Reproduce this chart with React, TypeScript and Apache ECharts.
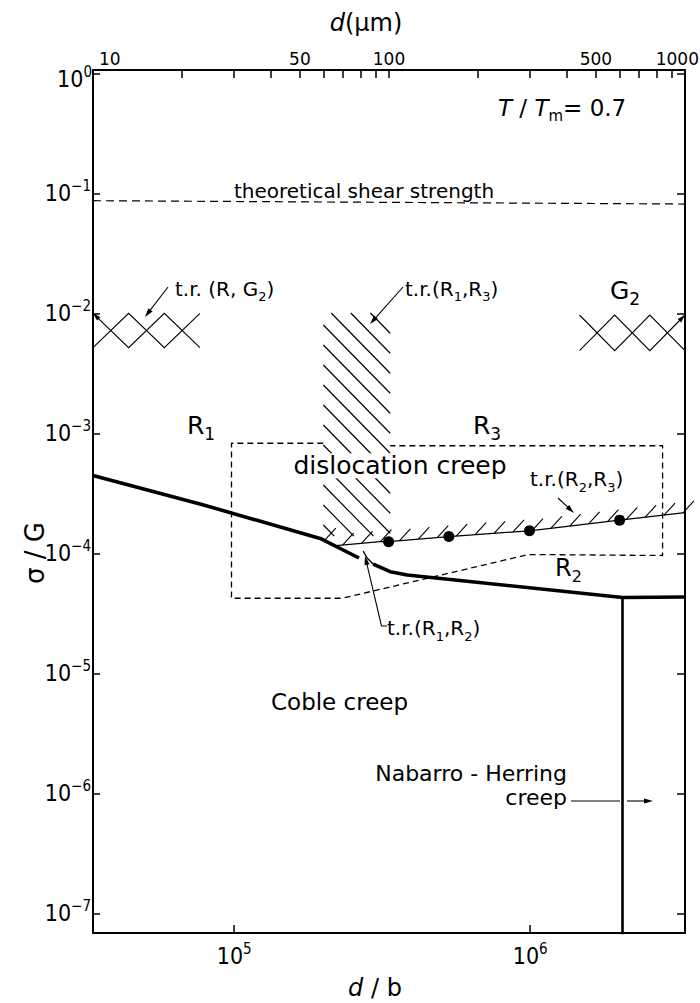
import React, { useEffect, useRef } from 'react';
import * as echarts from 'echarts';

// ---------- data (d/b, sigma/G) ----------
const B_UM = 3e-4; // Burgers vector in micrometres: d/b = d(um) / B_UM

const TOP_TICKS_UM = [10, 20, 30, 40, 50, 60, 70, 80, 90, 100, 200, 300, 400, 500, 600, 700, 800, 900, 1000];
const TOP_LABELS_UM = [10, 50, 100, 500, 1000];
const X_TICK_EXP = [5, 6];
const Y_TICK_EXP = [-7, -6, -5, -4, -3, -2, -1, 0];

const SHEAR_X = [3.333e4, 3.333e6];
const SHEAR_Y = [0.0868, 0.0814];

// Coble / dislocation creep boundary (thick)
const BOUND1_X = [3.333e4, 7.66e4, 1.951e5, 2.64e5];
const BOUND1_Y = [4.45e-4, 2.58e-4, 1.33e-4, 9.14e-5];
// thin connection t.r.(R1,R2)
const LINK_X = [2.726e5, 2.81e5, 2.97e5];
const LINK_Y = [1.045e-4, 9.14e-5, 7.99e-5];
// dislocation creep / Coble boundary, second part
const BOUND2_X = [2.947e5, 3.365e5, 3.842e5, 2.05e6, 3.333e6];
const BOUND2_Y = [8.14e-5, 7.03e-5, 6.6e-5, 4.28e-5, 4.32e-5];
// Nabarro-Herring boundary
const NH_X = [2.05e6, 2.05e6];
const NH_Y = [4.28e-5, 6.5e-8];

// dashed box (experimental range)
const BOX_X = [2.0e5, 9.79e4, 9.79e4, 2.315e5, 9.86e5, 2.8e6, 2.8e6, 3.365e5];
const BOX_Y = [8.26e-4, 8.26e-4, 4.22e-5, 4.22e-5, 9.77e-5, 9.59e-5, 7.88e-4, 7.88e-4];

// t.r.(R2,R3) boundary with measured points
const DOT_X = [3.323e5, 5.31e5, 9.94e5, 2.004e6];
const DOT_Y = [1.25e-4, 1.38e-4, 1.54e-4, 1.89e-4];
const TR23_X = [1.981e5, 2.21e5, 3.112e5, ...DOT_X, 3.333e6];
const TR23_Y = [1.32e-4, 1.16e-4, 1.25e-4, ...DOT_Y, 2.18e-4];

// hatched band t.r.(R1,R3): [left, right], [top, bottom]
const BAND_X = [2.0e5, 3.365e5];
const BAND_Y = [1.006e-2, 1.39e-4];

// cross-hatched bands t.r.(R,G2)
const ZZ_LEFT_X = [3.333e4, 7.66e4];
const ZZ_LEFT_Y = [1.0e-2, 5.17e-3];
const ZZ_RIGHT_X = [1.467e6, 3.333e6];
const ZZ_RIGHT_Y = [9.68e-3, 4.88e-3];

// ---------- style constants ----------
const FONT = "'DejaVu Sans', 'Noto Sans', sans-serif";
const TICK_FONT = "'DejaVu Sans Condensed', 'Liberation Sans Narrow', 'DejaVu Sans', sans-serif";
const HATCH_SLOPE = 1.02;
const HATCH_GAP = 20;
const HATCH_PHASE = 12;
const TICK_GAP = 19;
const TICK_START = 3;
const TICK_DX = 11;
const TICK_DY = -12;

const lg = Math.log10;
const X_MIN = lg(TOP_LABELS_UM[0] / B_UM);
const X_MAX = lg(TOP_LABELS_UM[TOP_LABELS_UM.length - 1] / B_UM);
const Y_MIN = -7.164;
const Y_MAX = 0.0275;

const zip = (xs: number[], ys: number[]) => xs.map((x, i) => [lg(x), lg(ys[i])]);

const rich = (fs: number, lhExtra = 9) => {
  const lh = Math.round(fs + lhExtra);
  const sfs = Math.round(fs * 0.66);
  return {
    n: { fontSize: fs, lineHeight: lh, fontFamily: FONT, fill: '#000', verticalAlign: 'middle' },
    i: { fontSize: fs, lineHeight: lh, fontFamily: FONT, fill: '#000', fontStyle: 'italic', verticalAlign: 'middle' },
    sub: { fontSize: sfs, lineHeight: sfs, fontFamily: FONT, fill: '#000', verticalAlign: 'bottom' },
    sup: { fontSize: sfs, lineHeight: sfs, fontFamily: FONT, fill: '#000', verticalAlign: 'top' },
  };
};

const POW_RICH = {
  b: { fontSize: 23, lineHeight: 30, fontFamily: TICK_FONT, color: '#000', verticalAlign: 'middle' },
  s: { fontSize: 15, lineHeight: 15, fontFamily: TICK_FONT, color: '#000', verticalAlign: 'top' },
};
const POW_RICH_G = {
  b: { fontSize: 23, lineHeight: 30, fontFamily: TICK_FONT, fill: '#000', verticalAlign: 'middle' },
  s: { fontSize: 15, lineHeight: 15, fontFamily: TICK_FONT, fill: '#000', verticalAlign: 'top' },
};

function txt(text: string, x: number, y: number, fs: number, align = 'left', extra: any = {}) {
  return {
    type: 'text',
    z: 100,
    silent: true,
    x,
    y,
    style: {
      text,
      x: 0,
      y: 0,
      fill: '#000',
      fontFamily: FONT,
      fontSize: fs,
      align,
      textAlign: align,
      verticalAlign: 'middle',
      textVerticalAlign: 'middle',
      rich: rich(fs),
      ...extra,
    },
  };
}

function arrowEls(pts: number[][], head = 9, half = 2.6, w = 1.1) {
  const n = pts.length;
  const [ax, ay] = pts[n - 2];
  const [bx, by] = pts[n - 1];
  const L = Math.hypot(bx - ax, by - ay);
  const ux = (bx - ax) / L;
  const uy = (by - ay) / L;
  const cx = bx - ux * head;
  const cy = by - uy * head;
  const shaft = pts.slice(0, n - 1).concat([[cx + ux * 2, cy + uy * 2]]);
  return [
    { type: 'polyline', z: 100, silent: true, shape: { points: shaft }, style: { stroke: '#000', fill: 'none', lineWidth: w } },
    {
      type: 'polygon',
      z: 100,
      silent: true,
      shape: { points: [[bx, by], [cx - uy * half, cy + ux * half], [cx + uy * half, cy - ux * half]] },
      style: { fill: '#000' },
    },
  ];
}

function headEl(from: number[], to: number[], head = 8, half = 2.4) {
  const L = Math.hypot(to[0] - from[0], to[1] - from[1]);
  const ux = (to[0] - from[0]) / L;
  const uy = (to[1] - from[1]) / L;
  const cx = to[0] - ux * head;
  const cy = to[1] - uy * head;
  return {
    type: 'polygon',
    shape: { points: [to, [cx - uy * half, cy + ux * half], [cx + uy * half, cy - ux * half]] },
    style: { fill: '#000', stroke: 'none' },
  };
}

const hatchItem = (_p: any, api: any) => {
  const [x1, y1] = api.coord([lg(BAND_X[0]), lg(BAND_Y[0])]);
  const [x2, y2] = api.coord([lg(BAND_X[1]), lg(BAND_Y[1])]);
  const m = HATCH_SLOPE;
  const children: any[] = [];
  const kMin = -Math.ceil(((x2 - x1) * m) / HATCH_GAP) - 1;
  const kMax = Math.ceil((y2 - y1) / HATCH_GAP) + 1;
  for (let k = kMin; k <= kMax; k++) {
    const c = y1 + HATCH_PHASE + HATCH_GAP * k;
    const xs = Math.max(x1, x1 + (y1 - c) / m);
    const xe = Math.min(x2, x1 + (y2 - c) / m);
    if (xe - xs > 1) {
      children.push({
        type: 'line',
        shape: { x1: xs, y1: c + m * (xs - x1), x2: xe, y2: c + m * (xe - x1) },
        style: { stroke: '#000', fill: 'none', lineWidth: 1.2 },
      });
    }
  }
  return { type: 'group', children };
};

const zigzagItem = (_p: any, api: any) => {
  const children: any[] = [];
  const bands = [
    { xs: ZZ_LEFT_X, ys: ZZ_LEFT_Y, headStart: true },
    { xs: ZZ_RIGHT_X, ys: ZZ_RIGHT_Y, headStart: false },
  ];
  bands.forEach((b) => {
    const [xa, yt] = api.coord([lg(b.xs[0]), lg(b.ys[0])]);
    const [xb, yb] = api.coord([lg(b.xs[1]), lg(b.ys[1])]);
    const vx = [0, 1, 2, 3].map((i) => xa + ((xb - xa) * i) / 3);
    const A = vx.map((x, i) => [x, i % 2 === 0 ? yt : yb]);
    const Bp = vx.map((x, i) => [x, i % 2 === 0 ? yb : yt]);
    children.push({ type: 'polyline', shape: { points: A }, style: { stroke: '#000', fill: 'none', lineWidth: 1.1 } });
    children.push({ type: 'polyline', shape: { points: Bp }, style: { stroke: '#000', fill: 'none', lineWidth: 1.1 } });
    if (b.headStart) children.push(headEl(A[1], A[0]));
    else children.push(headEl(Bp[2], Bp[3]));
  });
  return { type: 'group', children };
};

const tickItem = (_p: any, api: any) => {
  const pts = TR23_X.map((x, i) => api.coord([lg(x), lg(TR23_Y[i])]));
  const children: any[] = [];
  let next = TICK_START;
  let acc = 0;
  for (let i = 0; i < pts.length - 1; i++) {
    const [ax, ay] = pts[i];
    const [bx, by] = pts[i + 1];
    const L = Math.hypot(bx - ax, by - ay);
    while (next <= acc + L) {
      const t = (next - acc) / L;
      const px = ax + (bx - ax) * t;
      const py = ay + (by - ay) * t;
      children.push({
        type: 'line',
        shape: { x1: px, y1: py, x2: px + TICK_DX, y2: py + TICK_DY },
        style: { stroke: '#000', fill: 'none', lineWidth: 1.1 },
      });
      next += TICK_GAP;
    }
    acc += L;
  }
  return { type: 'group', children };
};

const lineSeries = (data: number[][], width: number, type: any = 'solid') => ({
  type: 'line',
  data,
  xAxisIndex: 0,
  yAxisIndex: 0,
  symbol: 'none',
  showSymbol: false,
  silent: true,
  z: 3,
  lineStyle: { color: '#000', width, type, join: 'round', opacity: 1 },
  emphasis: { disabled: true },
});

const customSeries = (renderItem: any) => ({
  type: 'custom',
  xAxisIndex: 0,
  yAxisIndex: 0,
  silent: true,
  z: 2,
  data: [[X_MIN, Y_MIN]],
  renderItem,
});

const AXIS_LINE = { show: true, onZero: false, lineStyle: { color: '#000', width: 2 } };

const option: any = {
  animation: false,
  backgroundColor: '#fff',
  grid: { left: 93, right: 15, top: 70, bottom: 70, containLabel: false, outerBoundsMode: 'none' },
  xAxis: [
    {
      type: 'value',
      position: 'bottom',
      min: X_MIN,
      max: X_MAX,
      axisLine: AXIS_LINE,
      splitLine: { show: false },
      axisTick: { show: true, inside: true, length: 8, customValues: X_TICK_EXP, lineStyle: { color: '#000', width: 1.5 } },
      axisLabel: {
        customValues: X_TICK_EXP,
        margin: 8,
        formatter: (v: number) => `{b|10}{s|${Math.round(v)}}`,
        rich: POW_RICH,
      },
    },
    {
      type: 'value',
      position: 'top',
      min: X_MIN,
      max: X_MAX,
      axisLine: AXIS_LINE,
      splitLine: { show: false },
      axisTick: {
        show: true,
        inside: true,
        length: 8,
        customValues: TOP_TICKS_UM.map((d) => lg(d / B_UM)),
        lineStyle: { color: '#000', width: 1.5 },
      },
      axisLabel: {
        customValues: TOP_LABELS_UM.slice(1, -1).map((d) => lg(d / B_UM)),
        margin: 3,
        fontSize: 17,
        lineHeight: 17,
        fontFamily: FONT,
        color: '#000',
        formatter: (v: number) => String(Math.round(Math.pow(10, v) * B_UM)),
      },
    },
  ],
  yAxis: [
    {
      type: 'value',
      position: 'left',
      min: Y_MIN,
      max: Y_MAX,
      axisLine: AXIS_LINE,
      splitLine: { show: false },
      axisTick: { show: true, inside: true, length: 7, customValues: Y_TICK_EXP, lineStyle: { color: '#000', width: 1.5 } },
      axisLabel: {
        customValues: Y_TICK_EXP.slice(0, -1),
        margin: 2,
        formatter: (v: number) => `{b|10}{s|${v < 0 ? '\u2212' + Math.round(-v) : Math.round(v)}}`,
        rich: POW_RICH,
      },
    },
    {
      type: 'value',
      position: 'right',
      min: Y_MIN,
      max: Y_MAX,
      axisLine: AXIS_LINE,
      splitLine: { show: false },
      axisTick: { show: true, inside: true, length: 8, customValues: Y_TICK_EXP, lineStyle: { color: '#000', width: 1.5 } },
      axisLabel: { show: false },
    },
  ],
  series: [
    customSeries(hatchItem),
    customSeries(zigzagItem),
    customSeries(tickItem),
    lineSeries(zip(SHEAR_X, SHEAR_Y), 1.2, [8, 5]),
    lineSeries(zip(BOX_X, BOX_Y), 1.3, [6, 4]),
    lineSeries(zip(BOUND1_X, BOUND1_Y), 3.6),
    lineSeries(zip(LINK_X, LINK_Y), 1.4),
    lineSeries(zip(BOUND2_X, BOUND2_Y), 3.6),
    lineSeries(zip(NH_X, NH_Y), 2.6),
    lineSeries(zip(TR23_X.slice(1), TR23_Y.slice(1)), 1.3),
    {
      type: 'scatter',
      data: zip(DOT_X, DOT_Y),
      xAxisIndex: 0,
      yAxisIndex: 0,
      symbol: 'circle',
      symbolSize: 11,
      silent: true,
      z: 4,
      itemStyle: { color: '#000', opacity: 1, borderWidth: 0 },
      emphasis: { disabled: true },
    },
  ],
  graphic: {
    elements: [
      txt('{i|d}{n|(μm)}', 366, 23, 24, 'center'),
      txt('{i|d}{n| / b}', 375, 988, 24, 'center'),
      {
        type: 'text',
        z: 100,
        silent: true,
        x: 35,
        y: 553,
        rotation: Math.PI / 2,
        style: {
          text: 'σ / G',
          x: 0,
          y: 0,
          fill: '#000',
          fontFamily: FONT,
          fontSize: 26,
          align: 'center',
          textAlign: 'center',
          verticalAlign: 'middle',
          textVerticalAlign: 'middle',
        },
      },
      txt(String(TOP_LABELS_UM[0]), 99, 59, 17, 'left'),
      txt(String(TOP_LABELS_UM[TOP_LABELS_UM.length - 1]), 699, 59, 17, 'right'),
      {
        type: 'text',
        z: 100,
        silent: true,
        x: 92,
        y: 79,
        style: {
          text: `{b|10}{s|${Y_TICK_EXP[Y_TICK_EXP.length - 1]}}`,
          x: 0,
          y: 0,
          align: 'right',
          textAlign: 'right',
          verticalAlign: 'middle',
          textVerticalAlign: 'middle',
          rich: POW_RICH_G,
        },
      },
      txt('{i|T}{n| / }{i|T}{sub|m}{n|= 0.7}', 498, 107.5, 23, 'left'),
      txt('theoretical shear strength', 364, 191, 20, 'center'),
      txt('{n|t.r. (R, G}{sub|2}{n|)}', 175, 288.6, 20, 'left'),
      txt('{n|t.r.(R}{sub|1}{n|,R}{sub|3}{n|)}', 405, 288.6, 20, 'left'),
      txt('{n|G}{sub|2}', 610, 290.5, 25, 'left'),
      txt('{n|R}{sub|1}', 187, 425.5, 25, 'left'),
      txt('{n|R}{sub|3}', 473, 425.5, 25, 'left'),
      txt('dislocation creep', 400, 465.8, 25, 'center', { backgroundColor: '#fff', padding: [0, 2] }),
      txt('{n|t.r.(R}{sub|2}{n|,R}{sub|3}{n|)}', 530, 479, 20, 'left'),
      txt('{n|R}{sub|2}', 555, 568, 24, 'left'),
      txt('{n|t.r.(R}{sub|1}{n|,R}{sub|2}{n|)}', 387, 628, 20, 'left'),
      txt('Coble creep', 271, 702, 23, 'left'),
      txt('Nabarro - Herring', 567, 773, 22, 'right', { lineHeight: 22, rich: undefined }),
      txt('creep', 567, 797, 22, 'right', { lineHeight: 22, rich: undefined }),
      ...arrowEls([[168, 287], [145, 317]]),
      ...arrowEls([[403, 287], [370, 324]]),
      ...arrowEls([[558, 498], [574, 513]]),
      ...arrowEls([[387, 626], [381.5, 626], [365, 556]]),
      { type: 'line', z: 100, silent: true, shape: { x1: 571, y1: 801, x2: 620, y2: 801 }, style: { stroke: '#000', lineWidth: 1.1 } },
      ...arrowEls([[627, 801], [653, 801]]),
    ],
  },
};

export default function App() {
  const ref = useRef<HTMLDivElement>(null);
  useEffect(() => {
    if (!ref.current) return;
    const chart = echarts.init(ref.current, null, { renderer: 'svg', width: 700, height: 1003 });
    chart.setOption(option);
    return () => chart.dispose();
  }, []);
  return (
    <div
      ref={ref}
      style={{ position: 'absolute', left: 0, top: 0, width: 700, height: 1003, background: '#fff' }}
    />
  );
}
